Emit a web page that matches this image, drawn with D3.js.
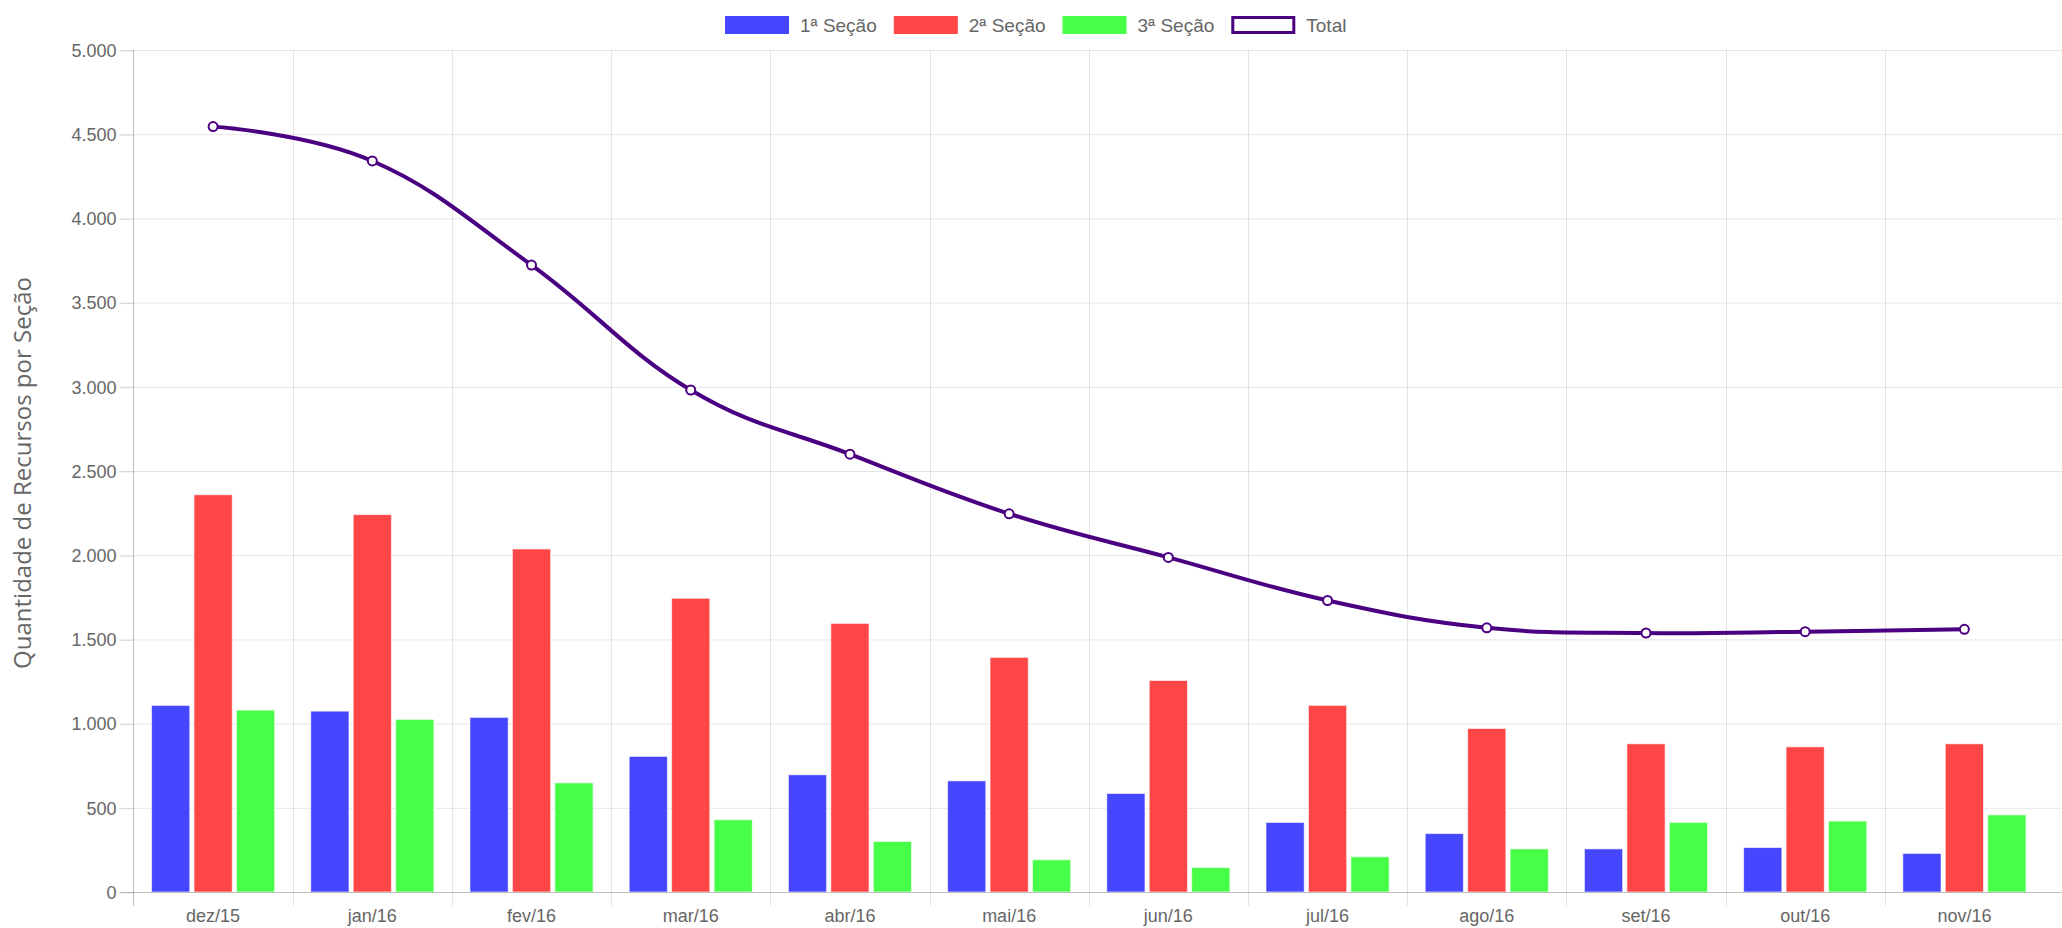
<!DOCTYPE html>
<html>
<head>
<meta charset="utf-8">
<script src="https://cdn.jsdelivr.net/npm/d3@7"></script>
<style>
  body { margin: 0; background: #fff; }
  text { font-family: "Liberation Sans", Arial, sans-serif; }
</style>
</head>
<body>
<div id="vizDiv"></div>
<script>
var width = 2062
var height = 928

// data
var months = ["dez/15", "jan/16", "fev/16", "mar/16", "abr/16", "mai/16", "jun/16", "jul/16", "ago/16", "set/16", "out/16", "nov/16"]
var secao1 = [1108, 1074, 1037, 805, 696, 660, 585, 413, 347, 256, 264, 229]
var secao2 = [2359, 2241, 2037, 1744, 1595, 1393, 1256, 1108, 971, 880, 862, 880]
var secao3 = [1080, 1025, 648, 429, 300, 191, 145, 209, 256, 413, 421, 458]
var total = [4545, 4341, 3723, 2981, 2600, 2246, 1987, 1731, 1569, 1538, 1546, 1560]
var seriesNames = ["1ª Seção", "2ª Seção", "3ª Seção"]
var seriesColors = ["#4646ff", "#ff4646", "#46ff46"]
var totalName = "Total"
var totalColor = "#4b0082"
var yTicks = [0, 500, 1000, 1500, 2000, 2500, 3000, 3500, 4000, 4500, 5000]

var plotLeft = 133.5
var plotRight = 2044
var plotTop = 50
var plotBottom = 892
var gridColor = "rgba(0,0,0,0.1)"
var axisColor = "rgba(0,0,0,0.25)"
var textColor = "#666"

var ptBR = d3.formatLocale({decimal: ",", thousands: ".", grouping: [3], currency: ["R$", ""]})
var fmt = ptBR.format(",d")

var svg = d3.select("#vizDiv")
    .append("svg")
    .attr("width", width)
    .attr("height", height)

var x0 = d3.scaleBand().domain(months).range([plotLeft, plotRight])
var bw = x0.bandwidth()
var x1 = d3.scaleBand().domain(d3.range(3))
    .range([bw * 0.1, bw * 0.9])
    .paddingInner(0.1).paddingOuter(0.05)
var y = d3.scaleLinear().domain([0, 5000]).range([plotBottom, plotTop])

// horizontal grid lines (with tick marks)
svg.append("g").selectAll("line")
    .data(yTicks.filter(function(d) { return d > 0 }))
    .enter().append("line")
    .attr("x1", plotLeft - 14).attr("x2", width)
    .attr("y1", function(d) { return y(d) + 0.5 })
    .attr("y2", function(d) { return y(d) + 0.5 })
    .attr("stroke", gridColor)

// vertical grid lines at category boundaries (last one not drawn)
svg.append("g").selectAll("line")
    .data(months.slice(1))
    .enter().append("line")
    .attr("x1", function(d) { return Math.round(x0(d)) + 0.5 })
    .attr("x2", function(d) { return Math.round(x0(d)) + 0.5 })
    .attr("y1", plotTop).attr("y2", plotBottom + 14)
    .attr("stroke", gridColor)

// y axis
var yAxis = d3.axisLeft(y).tickValues(yTicks).tickFormat(fmt).tickSize(14).tickPadding(3)
var gy = svg.append("g").attr("transform", "translate(" + plotLeft + ",0.5)").call(yAxis)
gy.select(".domain").remove()
gy.selectAll(".tick line").attr("stroke", gridColor)
gy.selectAll(".tick text")
    .attr("fill", textColor)
    .style("font-size", "18px")
    .style("font-family", "'Liberation Sans', Arial, sans-serif")

svg.append("line")
    .attr("x1", plotLeft).attr("x2", plotLeft)
    .attr("y1", plotTop).attr("y2", plotBottom + 14)
    .attr("stroke", axisColor)

// x axis labels
var xAxis = d3.axisBottom(x0).tickSize(0).tickPadding(17)
var gx = svg.append("g").attr("transform", "translate(0," + plotBottom + ")").call(xAxis)
gx.select(".domain").remove()
gx.selectAll(".tick text")
    .attr("fill", textColor)
    .style("font-size", "18px")
    .style("font-family", "'Liberation Sans', Arial, sans-serif")

// bars
var barData = [secao1, secao2, secao3]
var groups = svg.append("g").selectAll("g")
    .data(months)
    .enter().append("g")
    .attr("transform", function(d) { return "translate(" + x0(d) + ",0)" })

groups.selectAll("rect")
    .data(function(d, i) { return barData.map(function(s, k) { return {k: k, v: s[i]} }) })
    .enter().append("rect")
    .attr("x", function(d) { return x1(d.k) })
    .attr("width", x1.bandwidth())
    .attr("y", function(d) { return y(d.v) })
    .attr("height", function(d) { return plotBottom - y(d.v) })
    .attr("fill", function(d) { return seriesColors[d.k] })
    .attr("stroke", "rgba(255,255,255,0.6)")
    .attr("stroke-width", 1)

// x axis line (zero line)
svg.append("line")
    .attr("x1", plotLeft - 14).attr("x2", width)
    .attr("y1", plotBottom + 0.5).attr("y2", plotBottom + 0.5)
    .attr("stroke", axisColor)

// total line
var line = d3.line()
    .x(function(d, i) { return x0(months[i]) + bw / 2 })
    .y(function(d) { return y(d) })
    .curve(d3.curveCardinal.tension(-0.2))

svg.append("path")
    .attr("d", line(total))
    .attr("fill", "none")
    .attr("stroke", totalColor)
    .attr("stroke-width", 4)

svg.append("g").selectAll("circle")
    .data(total)
    .enter().append("circle")
    .attr("cx", function(d, i) { return x0(months[i]) + bw / 2 })
    .attr("cy", function(d) { return y(d) })
    .attr("r", 4.5)
    .attr("fill", "#fff")
    .attr("stroke", totalColor)
    .attr("stroke-width", 2)

// y axis title
svg.append("text")
    .attr("transform", "translate(31,473) rotate(-90)")
    .attr("text-anchor", "middle")
    .attr("fill", textColor)
    .style("font-family", "'Open Sans', sans-serif")
    .style("font-size", "24px")
    .text("Quantidade de Recursos por Seção")

// legend
var legendItems = seriesNames.map(function(n, i) { return {name: n, fill: seriesColors[i], stroke: seriesColors[i], sw: 1} })
legendItems.push({name: totalName, fill: "#fff", stroke: totalColor, sw: 3})

var legend = svg.append("g")
var boxW = 64, boxH = 18, gap = 11, itemGap = 17
var cursor = 0
legendItems.forEach(function(it) {
    var g = legend.append("g").attr("transform", "translate(" + cursor + ",0)")
    g.append("rect")
        .attr("x", it.sw / 2).attr("y", 16 + it.sw / 2)
        .attr("width", boxW - it.sw).attr("height", boxH - it.sw)
        .attr("fill", it.fill)
        .attr("stroke", it.stroke)
        .attr("stroke-width", it.sw)
    var t = g.append("text")
        .attr("x", boxW + gap).attr("y", 32)
        .attr("fill", textColor)
        .style("font-size", "19px")
        .text(it.name)
    cursor += boxW + gap + t.node().getComputedTextLength() + itemGap
})
var legendWidth = cursor - itemGap
legend.attr("transform", "translate(" + Math.round(1035.5 - legendWidth / 2) + ",0)")
</script>
</body>
</html>
